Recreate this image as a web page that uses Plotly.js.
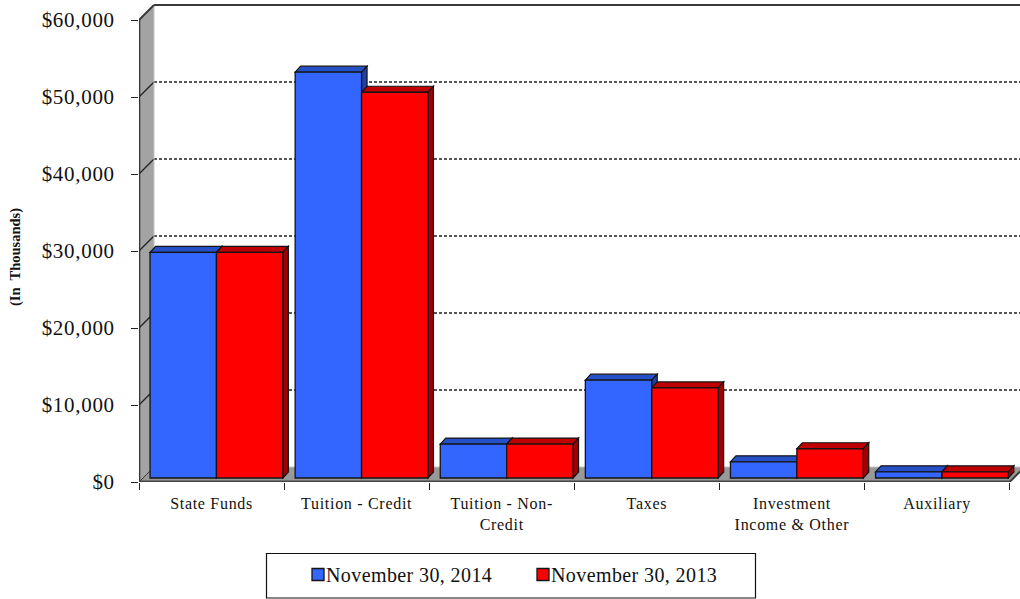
<!DOCTYPE html>
<html>
<head>
<meta charset="utf-8">
<script src="https://cdn.plot.ly/plotly-3.0.1.min.js"></script>
<style>
html,body{margin:0;padding:0;background:#fff}
.xtick text,.ytick text{letter-spacing:.7px}
.legendtext{letter-spacing:.4px}
</style>
</head>
<body>
<div id="chart" style="width:1020px;height:599px"></div>
<script>
// Revenue by source, in thousands of dollars
const categories = ["State Funds", "Tuition - Credit", "Tuition - Non-<br>Credit", "Taxes", "Investment<br>Income & Other", "Auxiliary"];
const values2014 = [29300, 52700, 4400, 12700, 2100, 800];
const values2013 = [29300, 50100, 4400, 11700, 3800, 800];
const seriesNames = ["November 30, 2014", "November 30, 2013"];
const yTicks = [0, 10000, 20000, 30000, 40000, 50000, 60000];
const yTickLabels = ["$0", "$10,000", "$20,000", "$30,000", "$40,000", "$50,000", "$60,000"];

// Plot frame in pixels; the axes reach past the $60,000 tick so the back wall fits
const W = 1020, H = 599, L = 139, B = 482, T = 2;
const PX_PER_CAT = 145.1, PX_PER_USD = 7.7 / 1000;
const dx = px => px / PX_PER_CAT;
const dy = px => px / PX_PER_USD;

// Depth of the fake 3D box and of the bars standing inside it
const WALL_X = dx(15), WALL_Y = dy(15);
const BAR_X = dx(5.5), BAR_Y = dy(6);
const BAR_BASE = dy(4);
const BAR_W = 66.4 / PX_PER_CAT;
const X0 = -0.5, XEND = X0 + (W - L) / PX_PER_CAT, XFRONT = 5.5;
const OFFSETS = [-61.5 / PX_PER_CAT, (-61.5 + 66.4) / PX_PER_CAT];

const COLORS = [
  {front: "#3366ff", top: "#2650c8", side: "#2040a8"},
  {front: "#ff0000", top: "#c00000", side: "#a00000"}
];
const EDGE = "#141414";

const poly = pts => "M" + pts.map(p => p[0] + "," + p[1]).join("L") + "Z";
const face = (pts, fill, width) => ({
  type: "path", xref: "x", yref: "y", layer: "below", path: poly(pts),
  fillcolor: fill, line: {color: EDGE, width: width === undefined ? 1.2 : width}
});
const rule = (x0, y0, x1, y1, color, width, dash) => ({
  type: "line", xref: "x", yref: "y", layer: "below", x0, y0, x1, y1,
  line: {color, width, dash: dash || "solid"}
});

const shapes = [];

// Floor and left wall
shapes.push(face([[X0, 0], [XFRONT, 0], [XFRONT + WALL_X, WALL_Y], [X0 + WALL_X, WALL_Y]], "#999999", 0));
shapes.push(face([[X0, 0], [X0 + WALL_X, WALL_Y], [X0 + WALL_X, 60000 + WALL_Y], [X0, 60000]], "#a3a3a3", 0));

// Dashed grid on the back wall, diagonals across the side wall
yTicks.forEach(v => {
  if (v > 0 && v < 60000) {
    shapes.push(rule(X0 + WALL_X, v + WALL_Y, XEND, v + WALL_Y, "#1f1f1f", 1.4, "3px,2px"));
    shapes.push(rule(X0, v, X0 + WALL_X, v + WALL_Y, "#222222", 1.3));
  }
});

// Box outline
shapes.push(rule(X0 + WALL_X, WALL_Y, X0 + WALL_X, 60000 + WALL_Y, "#c4c4c4", 1));
shapes.push(rule(X0 + WALL_X, WALL_Y, XEND, WALL_Y, "#c4c4c4", 1));
shapes.push(rule(X0, 0, X0, 60000, "#333333", 2.5));
shapes.push(rule(X0, 60000, X0 + WALL_X, 60000 + WALL_Y, "#3a3a3a", 2));
shapes.push(rule(X0 + WALL_X, 60000 + WALL_Y, XEND, 60000 + WALL_Y, "#3a3a3a", 2.2));
shapes.push(rule(X0, 0, XFRONT, 0, "#444444", 3));
shapes.push(rule(X0, 0, X0 + WALL_X, WALL_Y, "#3a3a3a", 1));
shapes.push(rule(XFRONT, 0, XFRONT + WALL_X, WALL_Y, "#3a3a3a", 2));

// Top and side faces of each bar, worked out from the same values as the fronts
[values2014, values2013].forEach((vals, s) => {
  vals.forEach((v, i) => {
    const x0 = i + OFFSETS[s], x1 = x0 + BAR_W;
    const y0 = BAR_BASE, y1 = BAR_BASE + v;
    shapes.push(face([[x0, y1], [x1, y1], [x1 + BAR_X, y1 + BAR_Y], [x0 + BAR_X, y1 + BAR_Y]], COLORS[s].top));
    shapes.push(face([[x1, y0], [x1 + BAR_X, y0 + BAR_Y], [x1 + BAR_X, y1 + BAR_Y], [x1, y1]], COLORS[s].side));
  });
});

// Legend frame
const paperX = px => (px - L) / (W - L);
const paperY = py => (B - py) / (B - T);
shapes.push({
  type: "rect", xref: "paper", yref: "paper", layer: "below",
  x0: paperX(266.5), x1: paperX(755.5), y0: paperY(598), y1: paperY(553.5),
  fillcolor: "#ffffff", line: {color: "#111111", width: 1.2}
});

const bars = [values2014, values2013].map((vals, s) => ({
  type: "bar",
  name: seriesNames[s],
  x: categories,
  y: vals,
  base: BAR_BASE,
  width: BAR_W,
  offset: OFFSETS[s],
  marker: {color: COLORS[s].front, line: {color: EDGE, width: 1.3}},
  hoverinfo: "x+y"
}));

const serif = "'Liberation Serif','Times New Roman',serif";
const layout = {
  width: W, height: H,
  margin: {l: L, r: 0, t: T, b: H - B, pad: 0, autoexpand: false},
  paper_bgcolor: "#ffffff", plot_bgcolor: "#ffffff",
  font: {family: serif, color: "#111111"},
  barmode: "overlay",
  xaxis: {
    type: "category", categoryorder: "array", categoryarray: categories,
    range: [X0, XEND], tickson: "boundaries", ticks: "outside", ticklen: 7,
    tickwidth: 1.3, tickcolor: "#222222", tickangle: 0, tickfont: {size: 16, family: serif},
    ticklabelstandoff: 10,
    showgrid: false, zeroline: false, showline: false
  },
  yaxis: {
    range: [0, (B - T) / PX_PER_USD], tickmode: "array", tickvals: yTicks, ticktext: yTickLabels,
    ticks: "outside", ticklen: 7,
    tickwidth: 1.3, tickcolor: "#222222", tickfont: {size: 21, family: serif},
    ticklabelstandoff: 12,
    showgrid: false, zeroline: false, showline: false
  },
  shapes,
  annotations: [{
    text: "<b>(In  Thousands)</b>", xref: "paper", yref: "paper",
    x: paperX(15), y: paperY(257), xanchor: "center", yanchor: "middle", showarrow: false, textangle: -90,
    font: {size: 14.5, family: serif, color: "#111111"}
  }],
  showlegend: true,
  legend: {
    orientation: "h", x: paperX(286), y: paperY(574.5), xanchor: "left", yanchor: "middle",
    entrywidth: 180, entrywidthmode: "pixels", bgcolor: "rgba(0,0,0,0)", borderwidth: 0,
    font: {size: 20, family: serif, color: "#111111"}
  }
};

Plotly.newPlot("chart", bars, layout, {displayModeBar: false, responsive: false}).then(gd => {
  // Sit each legend swatch right beside its label
  gd.querySelectorAll(".legend .traces .layers").forEach(g => {
    g.setAttribute("transform", "translate(12,0)");
  });
});
</script>
</body>
</html>
